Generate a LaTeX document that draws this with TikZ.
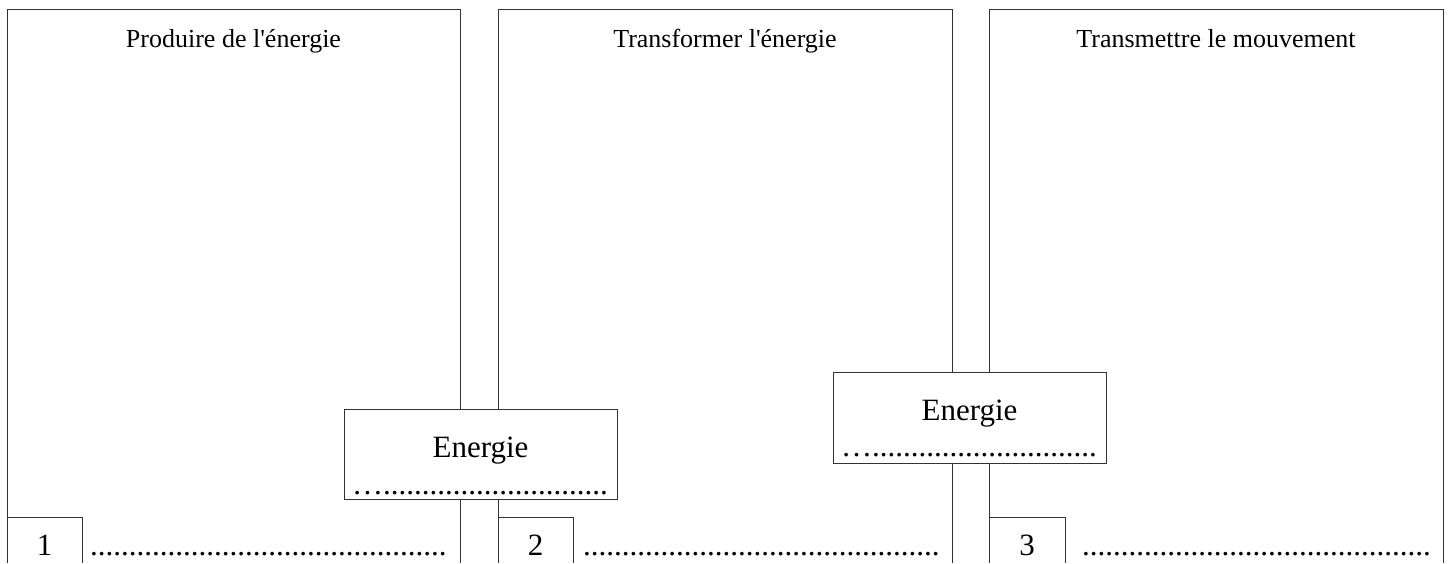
\documentclass[tikz,border=0pt]{standalone}
\usepackage{fontspec}
\setmainfont{Liberation Serif}
\begin{document}
\begin{tikzpicture}[x=1pt,y=-1pt,
  frame/.style={draw=black!80,line width=1pt},
  title/.style={font=\fontsize{26}{30}\selectfont,anchor=base,inner sep=0pt},
  big/.style={font=\fontsize{31}{36}\selectfont,inner sep=0pt},
  ebox/.style={frame,fill=white}]
\useasboundingbox (0,0) rectangle (1449,563);
\fill[white] (0,0) rectangle (1449,563);
% panels
\draw[frame] (7,563) -- (7,9) -- (460,9) -- (460,563);
\draw[frame] (498,563) -- (498,9) -- (952,9) -- (952,563);
\draw[frame] (989,563) -- (989,9) -- (1443,9) -- (1443,563);
\node[title] (t1) at (233.5,47) {Produire de l\textquotesingle énergie};
\node[title] (t2) at (725,47) {Transformer l\textquotesingle énergie};
\node[title] (t3) at (1216,47) {Transmettre le mouvement};
% number boxes
\draw[frame] (7,517) -- (82,517) -- (82,563);
\draw[frame] (498,517) -- (573,517) -- (573,563);
\draw[frame] (989,517) -- (1065,517) -- (1065,563);
\node[big,anchor=base] (n1) at (44.5,555) {1};
\node[big,anchor=base] (n2) at (535.5,555) {2};
\node[big,anchor=base] (n3) at (1027,555) {3};
\node[big,anchor=base west] (d1) at (90,555) {..............................................};
\node[big,anchor=base west] (d2) at (583,555) {..............................................};
\node[big,anchor=base west] (d3) at (1082,555) {.............................................};
% energy boxes
\draw[ebox] (344,409) rectangle (617,499);
\node[big,anchor=base] (e1) at (480.5,457) {Energie};
\node[big,anchor=base west] (f1) at (352,494) {….............................};
\draw[ebox] (833,372) rectangle (1106,463);
\node[big,anchor=base] (e2) at (969.5,420) {Energie};
\node[big,anchor=base west] (f2) at (841,456) {….............................};
\end{tikzpicture}
\end{document}
